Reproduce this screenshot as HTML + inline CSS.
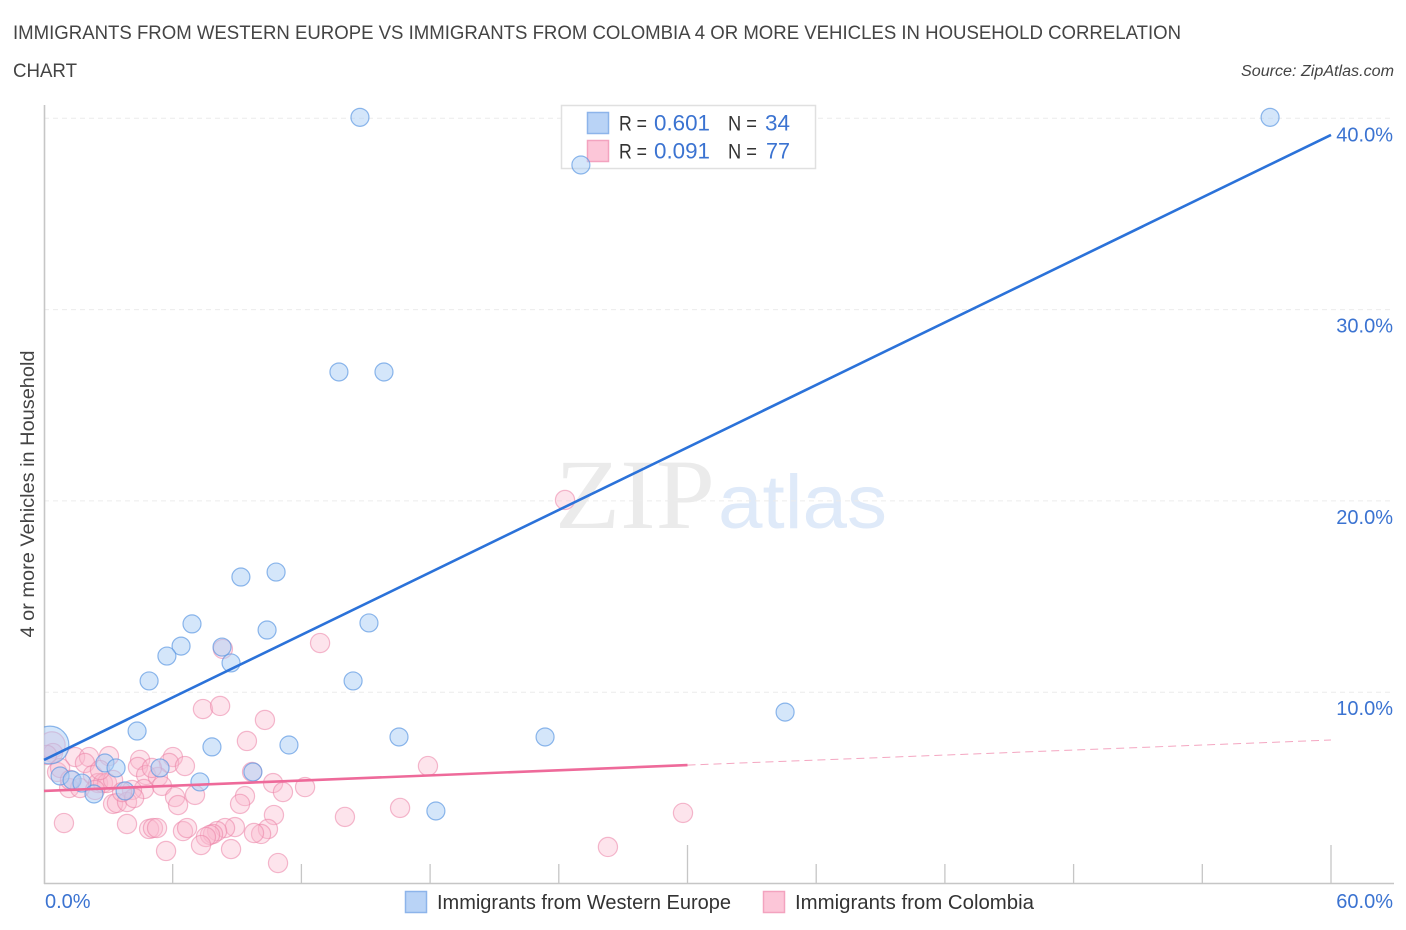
<!DOCTYPE html>
<html lang="en">
<head>
<meta charset="utf-8">
<title>Immigrants from Western Europe vs Immigrants from Colombia correlation chart</title>
<style>
html,body{margin:0;padding:0;background:#fff;}
svg{display:block;font-family:"Liberation Sans",Arial,sans-serif;}
</style>
</head>
<body>
<svg id="chart" xmlns="http://www.w3.org/2000/svg" width="1406" height="930" viewBox="0 0 1406 930">
  <defs>
    <clipPath id="plot-clip"><rect x="44" y="100" width="1362" height="784"/></clipPath>
  </defs>
  <rect width="1406" height="930" fill="#ffffff"/>
  <text x="13" y="39" font-size="19" fill="#444444" textLength="1168" lengthAdjust="spacingAndGlyphs">IMMIGRANTS FROM WESTERN EUROPE VS IMMIGRANTS FROM COLOMBIA 4 OR MORE VEHICLES IN HOUSEHOLD CORRELATION</text>
  <text x="13" y="77" font-size="19" fill="#444444" textLength="64" lengthAdjust="spacingAndGlyphs">CHART</text>
  <text x="1241" y="76" font-size="15.5" font-style="italic" fill="#444444" textLength="153" lengthAdjust="spacingAndGlyphs">Source: ZipAtlas.com</text>

  <g>
    <text x="555" y="528" font-family="'Liberation Serif',serif" font-size="100" fill="#ebebeb" textLength="160" lengthAdjust="spacingAndGlyphs">ZIP</text>
    <text x="718" y="528" font-size="76" fill="#dfeaf9" textLength="169" lengthAdjust="spacingAndGlyphs">atlas</text>
  </g>

  <g id="grid"></g>
  <g id="axes"></g>
  <g id="ylabels"></g>
  <g id="xlabels"></g>
  <text transform="translate(34,494) rotate(-90)" text-anchor="middle" font-size="19.5" fill="#444444" textLength="287" lengthAdjust="spacingAndGlyphs">4 or more Vehicles in Household</text>

  <g>
    <rect x="561.5" y="105.5" width="254" height="63" fill="#ffffff" stroke="#e0e0e0" stroke-width="1.5"/>
    <rect x="587.5" y="112.5" width="21" height="21" fill="#b9d3f6" stroke="#8db4ea" stroke-width="1.5"/>
    <rect x="587.5" y="140.5" width="21" height="21" fill="#fcc6d8" stroke="#f3a3bf" stroke-width="1.5"/>
    <g font-size="21">
      <text x="619" y="130.5" fill="#333333" textLength="28" lengthAdjust="spacingAndGlyphs">R =</text>
      <text x="654" y="130.5" fill="#3b73d1" font-size="22" textLength="56" lengthAdjust="spacingAndGlyphs">0.601</text>
      <text x="728" y="130.5" fill="#333333" textLength="29" lengthAdjust="spacingAndGlyphs">N =</text>
      <text x="765" y="130.5" fill="#3b73d1" font-size="22" textLength="25" lengthAdjust="spacingAndGlyphs">34</text>
      <text x="619" y="158.5" fill="#333333" textLength="28" lengthAdjust="spacingAndGlyphs">R =</text>
      <text x="654" y="158.5" fill="#3b73d1" font-size="22" textLength="56" lengthAdjust="spacingAndGlyphs">0.091</text>
      <text x="728" y="158.5" fill="#333333" textLength="29" lengthAdjust="spacingAndGlyphs">N =</text>
      <text x="766" y="158.5" fill="#3b73d1" font-size="22" textLength="24" lengthAdjust="spacingAndGlyphs">77</text>
    </g>
  </g>

  <g id="marks" clip-path="url(#plot-clip)"></g>
  <g id="trends"></g>

  <g>
    <rect x="405.5" y="891.5" width="21" height="21" fill="#b9d3f6" stroke="#8db4ea" stroke-width="1.5"/>
    <text x="437" y="909" font-size="20" fill="#333333" textLength="294" lengthAdjust="spacingAndGlyphs">Immigrants from Western Europe</text>
    <rect x="763.5" y="891.5" width="21" height="21" fill="#fcc6d8" stroke="#f3a3bf" stroke-width="1.5"/>
    <text x="795" y="909" font-size="20" fill="#333333" textLength="239" lengthAdjust="spacingAndGlyphs">Immigrants from Colombia</text>
  </g>
</svg>

<script>
const yTickValues = [10, 20, 30, 40];
const yTickLabels = ["10.0%", "20.0%", "30.0%", "40.0%"];
const xTickValues = [6, 12, 18, 24, 30, 36, 42, 48, 54, 60];
const xEndValues = [0, 60];
const xEndLabels = ["0.0%", "60.0%"];

const europeX = [14.73,57.16,25.03,13.75,15.85,9.18,10.82,6.90,15.15,10.40,6.39,8.30,5.73,8.72,4.90,14.41,34.55,4.34,16.55,23.36,7.83,11.42,0.28,2.84,3.36,5.41,0.75,1.31,1.77,2.33,3.78,7.27,9.74,18.27];
const europeY = [40.05,40.05,37.56,26.74,26.74,16.02,16.28,13.57,13.62,13.25,12.41,12.36,11.89,11.53,10.59,10.59,8.96,7.97,7.66,7.66,7.14,7.24,7.24,6.30,6.04,6.04,5.62,5.41,5.25,4.68,4.84,5.31,5.83,3.79];
const europeWeight = [1,1,1,1,1,1,1,1,1,1,1,1,1,1,1,1,1,1,1,1,1,1,4.4,1,1,1,1,1,1,1,1,1,1,1];

const colombiaX = [0.37,0.42,0.14,1.45,2.10,1.91,3.03,0.61,1.17,1.68,2.28,2.52,2.75,2.94,3.22,2.38,4.48,4.38,4.76,4.66,4.10,3.22,3.40,3.87,4.20,6.01,5.83,6.57,5.31,5.50,6.11,6.25,7.04,0.93,3.87,4.90,5.08,5.27,6.48,6.67,9.46,9.70,10.68,11.14,12.17,9.37,9.14,10.72,10.44,10.12,9.79,8.90,8.44,8.07,7.88,7.74,7.55,7.32,8.72,5.69,10.91,12.87,8.34,7.41,8.21,10.30,24.29,17.90,16.60,14.03,29.79,26.29,0.75,3.64,1.21,2.61,5.03];
const colombiaY = [7.24,6.82,6.72,6.61,6.61,6.30,6.66,5.83,4.99,4.99,5.67,5.25,5.25,5.25,5.41,4.89,6.46,6.09,5.67,4.94,4.89,4.16,4.21,4.26,4.47,6.61,6.30,6.14,5.57,5.10,4.52,4.10,4.63,3.16,3.11,2.85,2.90,2.90,2.74,2.90,7.45,5.83,5.25,4.78,5.04,4.57,4.16,3.58,2.85,2.59,2.64,2.95,2.90,2.74,2.59,2.54,2.43,2.01,1.80,1.70,1.07,12.57,12.26,9.12,9.28,8.55,20.05,6.14,3.95,3.48,3.69,1.91,6.04,4.78,5.41,5.93,6.04];
const colombiaWeight = [1.9,1,1,1,1,1,1,1,1,1,1,1,1,1,1,1,1,1,1,1,1,1,1,1,1,1,1,1,1,1,1,1,1,1,1,1,1,1,1,1,1,1,1,1,1,1,1,1,1,1,1,1,1,1,1,1,1,1,1,1,1,1,1,1,1,1,1,1,1,1,1,1,1,1,1,1,1];

const europeTrendX = [0, 60];
const europeTrendY = [6.46, 39.13];
const colombiaTrendSolidX = [0, 30];
const colombiaTrendSolidY = [4.84, 6.19];
const colombiaTrendDashX = [30, 60];
const colombiaTrendDashY = [6.19, 7.50];

const NS = "http://www.w3.org/2000/svg";
function xScale(v) { return 44 + v * (1331 - 44) / 60; }
function yScale(v) { return 883.5 - v * (883.5 - 118.3) / 40; }
function make(tag, attrs) {
  const el = document.createElementNS(NS, tag);
  for (const k in attrs) el.setAttribute(k, attrs[k]);
  return el;
}

const grid = document.getElementById("grid");
const axes = document.getElementById("axes");
const ylabels = document.getElementById("ylabels");
const xlabels = document.getElementById("xlabels");
const marks = document.getElementById("marks");
const trends = document.getElementById("trends");

yTickValues.forEach(function (v, i) {
  const line = make("line", { x1: 44, x2: 1394, y1: yScale(v), y2: yScale(v), stroke: "#ececec", "stroke-width": 1, "stroke-dasharray": "5 4" });
  
  
  grid.appendChild(line);
  const label = make("text", { x: 1393, y: yScale(v) + 23, "text-anchor": "end", "font-size": 20, fill: "#3b73d1" });
  
  
  label.textContent = yTickLabels[i];
  ylabels.appendChild(label);
});

const yAxisLine = make("line", { x1: 44.5, x2: 44.5, y1: 105, y2: 884, stroke: "#c6c6c6", "stroke-width": 1.6 });


axes.appendChild(yAxisLine);

const xAxisLine = make("line", { x1: 44, x2: 1394, y1: 883.5, y2: 883.5, stroke: "#c6c6c6", "stroke-width": 1.6 });


axes.appendChild(xAxisLine);

xTickValues.forEach(function (v) {
  const tall = v % 30 === 0;
  const tick = make("line", { x1: xScale(v), x2: xScale(v), y1: tall ? 845 : 864, y2: 883, stroke: "#c6c6c6", "stroke-width": 1.3 });
  
  
  axes.appendChild(tick);
});

xEndValues.forEach(function (v, i) {
  const label = make("text", { x: i === 0 ? 45 : 1393, y: 908, "text-anchor": i === 0 ? "start" : "end", "font-size": 20, fill: "#3b73d1" });
  
  
  label.textContent = xEndLabels[i];
  xlabels.appendChild(label);
});

colombiaX.forEach(function (v, i) {
  const dot = make("circle", { cx: xScale(v), cy: yScale(colombiaY[i]), r: 9.6 * Math.sqrt(colombiaWeight[i]), fill: "rgba(250,185,205,0.38)", stroke: "rgba(235,130,165,0.55)", "stroke-width": 1.2 });
  
  
  marks.appendChild(dot);
});

europeX.forEach(function (v, i) {
  const dot = make("circle", { cx: xScale(v), cy: yScale(europeY[i]), r: 9 * Math.sqrt(europeWeight[i]), fill: "rgba(170,205,245,0.5)", stroke: "rgba(90,150,225,0.68)", "stroke-width": 1.2 });
  
  
  marks.appendChild(dot);
});

const europeTrend = make("line", { x1: xScale(europeTrendX[0]), y1: yScale(europeTrendY[0]), x2: xScale(europeTrendX[1]), y2: yScale(europeTrendY[1]), stroke: "#2b72d9", "stroke-width": 2.6 });


trends.appendChild(europeTrend);

const colombiaSolid = make("line", { x1: xScale(colombiaTrendSolidX[0]), y1: yScale(colombiaTrendSolidY[0]), x2: xScale(colombiaTrendSolidX[1]), y2: yScale(colombiaTrendSolidY[1]), stroke: "#ee6a9a", "stroke-width": 2.6 });


trends.appendChild(colombiaSolid);

const colombiaDash = make("line", { x1: xScale(colombiaTrendDashX[0]), y1: yScale(colombiaTrendDashY[0]), x2: xScale(colombiaTrendDashX[1]), y2: yScale(colombiaTrendDashY[1]), stroke: "#f4a6c1", "stroke-width": 1, "stroke-dasharray": "8 5" });


trends.appendChild(colombiaDash);
</script>
</body>
</html>
